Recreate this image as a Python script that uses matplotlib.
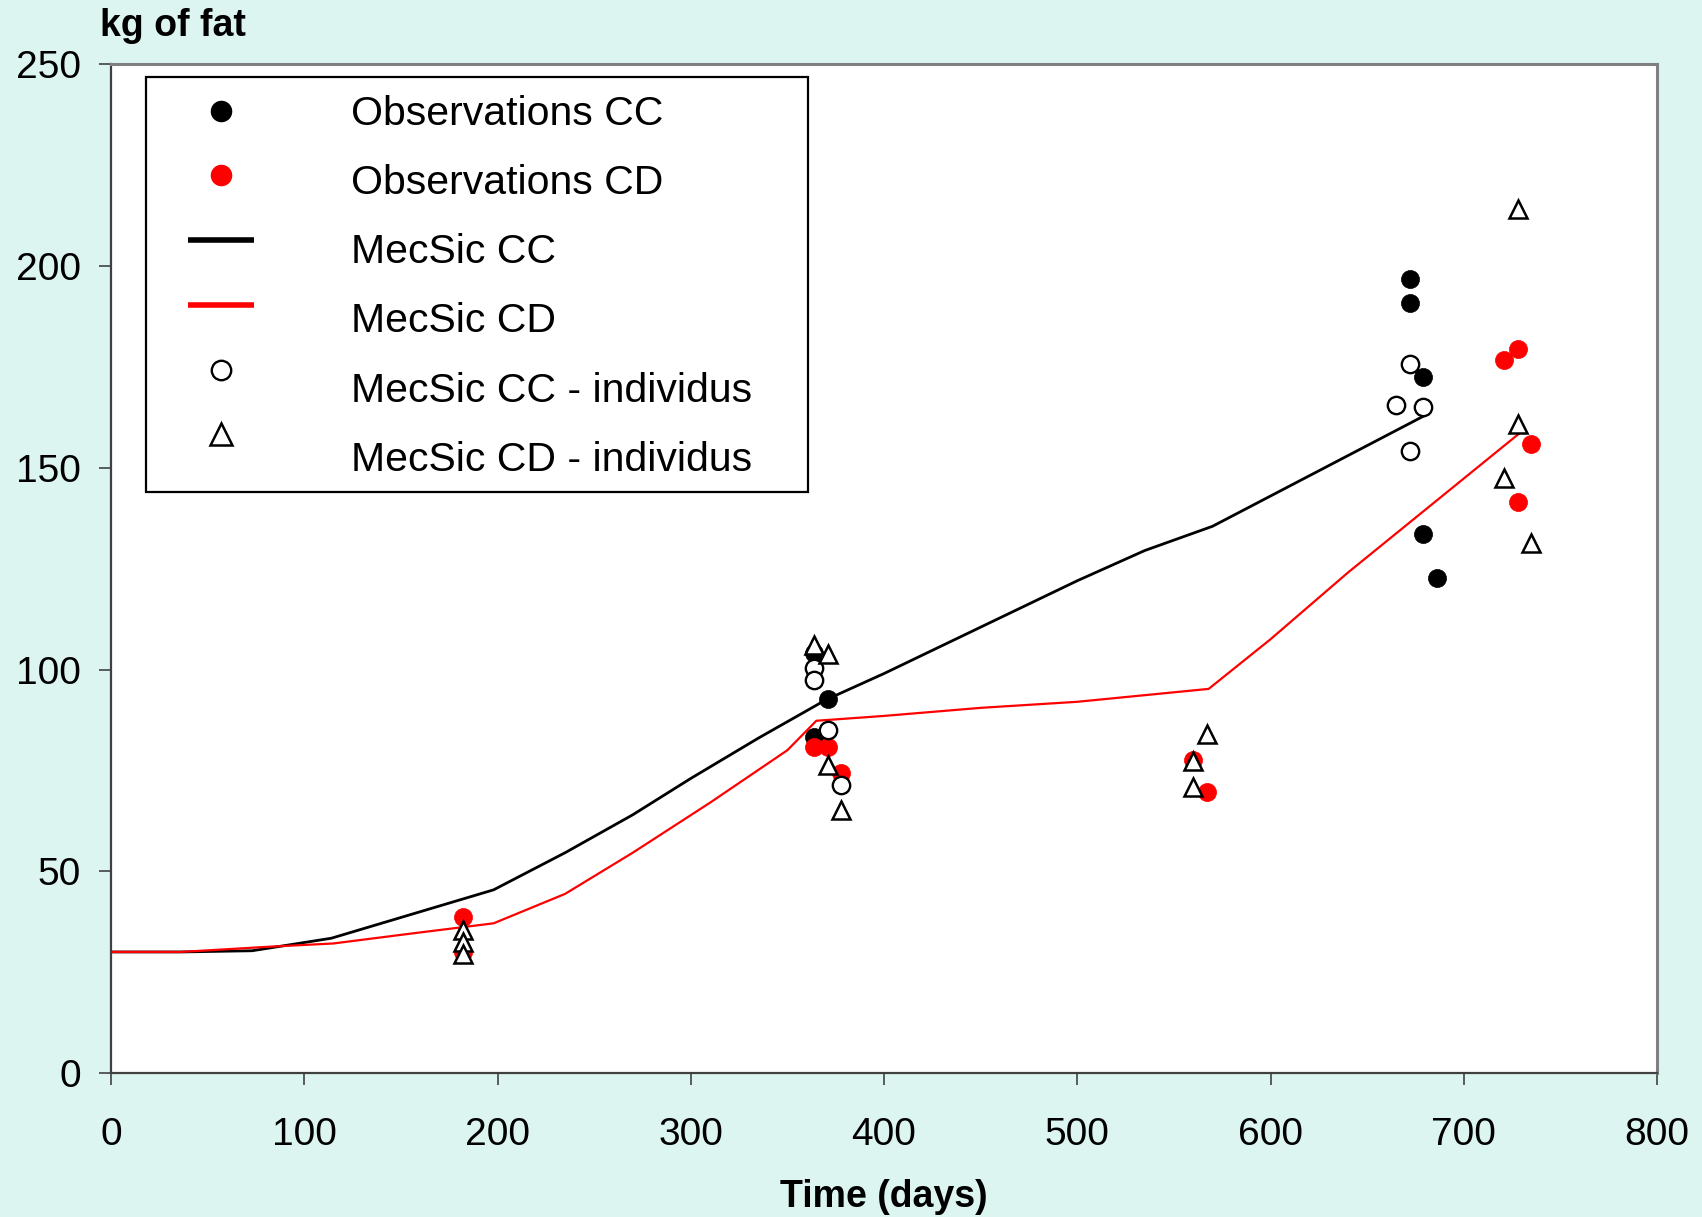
import matplotlib
matplotlib.use("Agg")
import matplotlib.pyplot as plt
from matplotlib.lines import Line2D
from matplotlib.patches import Rectangle

plt.rcParams['font.family'] = ['Liberation Sans', 'DejaVu Sans']

# ---------------- data ----------------
# model curves
cc_days = [0, 36, 73, 114, 198, 235, 270, 300, 335, 370, 400, 450, 500, 535, 570, 600, 640, 680]
cc_fat = [30, 30, 30.3, 33.4, 45.4, 54.6, 64, 73, 83, 92.5, 99, 110.5, 122, 129.5, 135.5, 143, 153, 163]

cd_days = [0, 36, 82, 115, 156, 198, 235, 270, 310, 350, 365, 400, 450, 500, 568, 600, 640, 685, 730]
cd_fat = [30, 30, 31.3, 32.1, 34.6, 37.1, 44.4, 54.6, 67, 80, 87.3, 88.5, 90.5, 92, 95.2, 107.5, 124, 141.5, 159]

# observations
obs_cc_days = [364, 364, 371, 672, 672, 679, 679, 686]
obs_cc_fat = [104.0, 83.3, 92.7, 196.9, 190.9, 172.6, 133.6, 122.6]

obs_cd_days = [182, 182, 364, 371, 378, 560, 567, 721, 728, 728, 735]
obs_cd_fat = [38.6, 30.1, 80.8, 80.8, 74.3, 77.6, 69.7, 176.7, 179.4, 141.6, 155.8]

# individual simulations
ind_cc_days = [364, 364, 371, 378, 672, 665, 679, 672]
ind_cc_fat = [100.4, 97.4, 85.0, 71.4, 175.7, 165.5, 165.0, 154.2]

ind_cd_days = [182, 182, 182, 364, 371, 371, 378, 560, 567, 560, 728, 728, 721, 735]
ind_cd_fat = [35.4, 32.5, 29.5, 106.1, 103.8, 76.4, 65.1, 77.3, 83.9, 70.8, 214.1, 160.9, 147.4, 131.3]

labels = ["Observations CC", "Observations CD", "MecSic CC", "MecSic CD",
          "MecSic CC - individus", "MecSic CD - individus"]
x_ticks = [0, 100, 200, 300, 400, 500, 600, 700, 800]
y_ticks = [0, 50, 100, 150, 200, 250]

# ---------------- figure ----------------
W, H = 1702, 1217
bg = '#DCF5F0'
fig = plt.figure(figsize=(W / 100, H / 100), dpi=100, facecolor=bg)
ax = fig.add_axes([111 / W, 1 - 1073 / H, (1657 - 111) / W, (1073 - 64.3) / H])
ax.set_facecolor('white')

ax.plot(obs_cc_days, obs_cc_fat, ls='none', marker='o', ms=13, mfc='black', mec='black', mew=0.5, zorder=3)
ax.plot(obs_cd_days, obs_cd_fat, ls='none', marker='o', ms=13, mfc='#FF0000', mec='#FF0000', mew=0.5, zorder=4)
ax.plot(cc_days, cc_fat, color='black', lw=2.0, zorder=5)
ax.plot(cd_days, cd_fat, color='#FF0000', lw=1.6, zorder=6)
ax.plot(ind_cc_days, ind_cc_fat, ls='none', marker='o', ms=12.5, mfc='white', mec='black', mew=1.7, zorder=7)
ax.plot(ind_cd_days, ind_cd_fat, ls='none', marker='^', ms=13.5, mfc='white', mec='black', mew=1.8, zorder=8)

ax.set_xlim(0, 800)
ax.set_ylim(0, 250)
ax.set_xticks(x_ticks)
ax.set_yticks(y_ticks)
ax.tick_params(direction='out', length=8.5, width=1.1, color='#333333', labelsize=28)
ax.tick_params(axis='x', pad=23)
ax.tick_params(axis='y', pad=13)

for s in ['left', 'bottom']:
    ax.spines[s].set_color('#404040')
    ax.spines[s].set_linewidth(1.6)
for s in ['top', 'right']:
    ax.spines[s].set_color('#808080')
    ax.spines[s].set_linewidth(2.2)

ax.set_xlabel('Time (days)', fontsize=27, fontweight='bold', labelpad=19)
fig.text(100 / W, 1 - 36 / H, 'kg of fat', fontsize=27, fontweight='bold', ha='left', va='baseline')

# ---------------- legend ----------------
frame = Rectangle((146 / W, 1 - 491.7 / H), (808 - 146) / W, (491.7 - 77.3) / H,
                  transform=fig.transFigure, facecolor='white', edgecolor='black', lw=1.6, zorder=9)
ax.add_artist(frame)
frame.set_clip_on(False)

common = dict(loc='upper left', bbox_to_anchor=(160 / W, 1 - 95 / H),
              bbox_transform=fig.transFigure, frameon=False, fontsize=29.5,
              borderpad=0, borderaxespad=0, handlelength=2.976, handletextpad=1.68,
              handleheight=0.7)

# text column
blank = [Line2D([], [], ls='none') for _ in labels]
leg_text = fig.legend(blank, labels, labelspacing=0.76, **common)

# marker column (blank labels keep the row layout)
handles = [
    Line2D([], [], ls='none', marker='o', ms=14.5, mfc='black', mec='black'),
    Line2D([], [], ls='none', marker='o', ms=14.5, mfc='#FF0000', mec='#FF0000'),
    Line2D([], [], ls='none', marker='_', ms=47, mec='black', mew=4),
    Line2D([], [], ls='none', marker='_', ms=47, mec='#FF0000', mew=4),
    Line2D([], [], ls='none', marker='o', ms=14, mfc='white', mec='black', mew=1.7),
    Line2D([], [], ls='none', marker='^', ms=16, mfc='white', mec='black', mew=1.8),
]
leg_mark = fig.legend(handles, [' '] * len(handles), labelspacing=0.652, **common)

fig.savefig('out.png', dpi=100, facecolor=bg)
